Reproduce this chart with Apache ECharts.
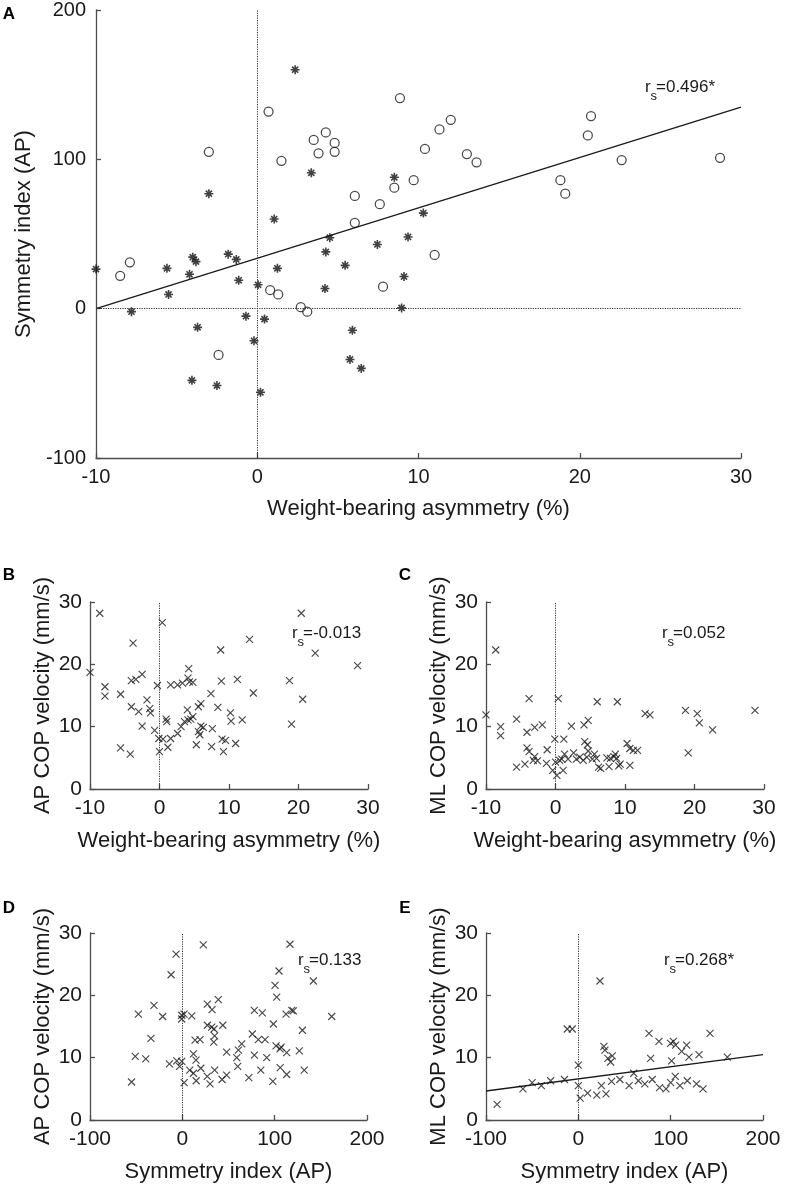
<!DOCTYPE html>
<html><head><meta charset="utf-8">
<script src="https://cdn.jsdelivr.net/npm/echarts@6/dist/echarts.min.js"></script>
<style>html,body{margin:0;padding:0;background:#fff}#c{width:785px;height:1187px}</style>
</head><body><div id="c"></div>
<script>
// Panel A: weight-bearing asymmetry (%) vs symmetry index (AP)
const aCircles = [[-8.5,22],[-7.9,31],[-3.0,105],[-2.4,-31],[0.7,132],[0.8,12.5],[1.3,9.5],[1.5,99],[2.7,1],[3.1,-2],[3.5,113],[3.8,104],[4.25,118],[4.8,111],[4.8,105],[6.05,75.5],[6.05,57.5],[7.6,70],[7.8,14.7],[8.5,81],[8.85,141],[9.7,86],[10.4,107],[11.0,36],[11.3,120],[12.0,126.5],[13.0,103.5],[13.6,98],[18.8,86],[19.1,77],[20.5,116],[20.7,129],[22.6,99.5],[28.7,101]];
const aStars = [[-10,26.5],[-7.8,-2],[-5.6,27],[-5.5,9.5],[-4.2,23],[-4.0,34.5],[-3.8,31.5],[-3.7,-12.5],[-4.05,-48],[-3.0,77],[-2.5,-51.5],[-1.8,36.5],[-1.3,33],[-1.15,19],[-0.7,-5],[-0.2,-21.5],[0.05,16],[0.2,-56],[0.45,-7],[1.05,60],[1.25,27],[2.35,160],[3.35,91],[4.2,13.5],[4.25,38],[4.5,47.5],[5.45,29],[5.75,-34],[5.9,-14.5],[6.45,-40],[7.45,43],[8.5,88],[8.95,0.5],[9.1,21.5],[9.35,48],[10.3,64]];
const aFit = [[-10,0],[30,135]];
// Panel B: WBA vs AP COP velocity
const bPoints = [[-10,18.7],[-8.6,28.2],[-7.85,16.4],[-7.85,14.9],[-5.6,15.2],[-5.6,6.6],[-4.2,5.6],[-3.8,23.4],[-4.05,17.4],[-3.4,17.6],[-2.5,18.4],[-4.05,13.2],[-3.0,12.4],[-1.8,14.3],[-1.4,12.9],[-1.3,12.2],[-2.5,10.1],[-0.7,9.4],[-0.3,16.6],[0.4,26.7],[-0.1,8.1],[0.5,8.0],[0.0,6.0],[1.05,10.8],[0.95,11.2],[1.2,6.7],[1.6,8.1],[1.6,16.7],[2.6,16.7],[3.3,17.0],[4.3,17.2],[4.2,19.3],[4.1,17.8],[4.8,17.1],[2.6,8.9],[3.1,10.0],[3.6,10.8],[4.1,11.1],[4.0,12.7],[4.5,11.2],[4.8,11.6],[5.6,13.2],[5.95,13.7],[7.4,15.3],[5.95,10.1],[6.3,9.9],[5.8,8.7],[5.6,9.2],[5.3,7.1],[7.6,9.7],[7.5,6.8],[8.4,13.1],[8.8,22.3],[8.9,17.3],[9.0,8.0],[9.5,7.8],[9.2,6.0],[10.2,12.2],[10.3,10.9],[10.95,7.3],[11.2,17.6],[11.9,11.1],[12.95,24.0],[13.5,15.4],[18.7,17.4],[19.0,10.4],[20.6,14.4],[20.4,28.2],[22.4,21.8],[28.5,19.8]];
// Panel C: WBA vs ML COP velocity
const cPoints = [[-10,11.9],[-8.6,22.3],[-7.9,10.0],[-7.9,8.55],[-5.6,11.2],[-5.6,3.5],[-4.4,4.0],[-3.8,14.5],[-4.1,9.1],[-3.0,9.9],[-1.9,10.3],[-4.1,6.6],[-3.8,6.0],[-3.0,5.2],[-3.2,4.6],[-2.6,4.5],[-1.2,6.3],[-1.3,4.1],[-0.1,8.0],[0.4,14.5],[1.2,8.0],[0.0,4.3],[0.6,4.6],[-0.4,3.0],[0.2,2.2],[1.1,3.0],[1.3,5.6],[1.8,4.8],[0.9,4.8],[2.3,10.1],[2.6,5.8],[3.0,4.8],[3.5,5.1],[4.0,4.6],[4.5,5.1],[4.7,6.1],[4.1,10.3],[4.7,11.0],[4.2,7.6],[4.6,7.1],[6.0,14.0],[5.6,5.6],[5.9,4.9],[5.3,4.8],[6.2,3.5],[6.5,3.3],[7.7,3.6],[9.1,3.7],[9.3,4.0],[10.7,3.8],[7.4,5.0],[8.4,5.2],[8.6,5.6],[8.8,4.9],[7.9,4.9],[8.9,14.0],[10.3,7.3],[10.7,6.5],[11.2,6.2],[11.8,6.2],[12.9,12.1],[13.6,11.9],[18.7,12.6],[19.1,5.8],[20.4,12.1],[20.7,10.6],[22.6,9.5],[28.7,12.6]];
// Panel D: symmetry index (AP) vs AP COP velocity
const dPoints = [[-6.8,26.6],[-12.2,23.3],[22.7,28.1],[116.6,28.2],[104.7,23.9],[100.4,21.6],[102.2,19.7],[141.9,22.3],[-47.6,17.0],[-30.7,18.4],[-21.3,16.6],[-34,13.1],[-0.7,16.8],[-0.7,16.2],[1.8,17.0],[10.2,16.7],[27.1,18.6],[39,19.3],[32.2,17.7],[27.1,15.2],[31.8,14.9],[34.3,14.6],[43.8,15.2],[13.8,12.8],[19.2,12.9],[34,12.5],[35,13.5],[78,17.6],[86.6,17.2],[75.8,13.8],[82.3,12.9],[89.6,12.9],[98.6,15.4],[112.3,17.0],[118.5,17.6],[120.2,17.5],[130,14.4],[161.8,16.6],[107,11.7],[-51,10.2],[-39.6,9.8],[-14,9.0],[-6,9.5],[-0.6,9.4],[12,10.6],[14.8,9.6],[48,10.9],[60.7,11.2],[64.3,12.2],[58.9,10.0],[78,10.4],[91.4,10.0],[101.5,11.9],[105.8,11.4],[113,10.8],[126.7,11.1],[-55,6.1],[-3,8.6],[2,6.0],[8,8.0],[12,7.5],[15,6.3],[20,8.3],[27,7.0],[30,5.8],[35,8.0],[43,6.5],[48,7.2],[60,8.6],[72,6.8],[85,8.0],[98,6.2],[106,8.4],[113,7.3],[132,8.0]];
// Panel E: symmetry index (AP) vs ML COP velocity
const ePoints = [[23.4,22.3],[-12,14.6],[-6.6,14.6],[76.5,13.9],[87.3,12.6],[100,12.3],[102.9,12.6],[105.4,12.0],[117.3,12.0],[142.6,13.9],[27.7,11.8],[28.8,11.2],[32,9.9],[36.8,10.3],[35,9.3],[111.9,11.0],[119.8,10.1],[130.7,10.5],[78.3,9.9],[101,9.5],[161.4,10.1],[0,8.8],[-88,2.5],[-60,5.0],[-50,6.0],[-40,5.5],[-30,6.3],[-15,6.5],[0,5.5],[2,3.5],[10,4.3],[20,4.0],[25,5.5],[30,4.2],[36,6.2],[45,6.5],[55,5.5],[60,7.5],[65,6.3],[72,5.8],[80,6.5],[88,5.2],[95,5.0],[100,6.0],[105,7.0],[110,5.5],[118,6.3],[128,5.8],[135,5.0]];
const eFit = [[-100,4.65],[200,10.5]];
const wbaRange = [-10, 30, 10];
const siRange = [-100, 200, 100];
const copRange = [0, 30, 10];
const labels = {
  a: { letter: 'A', rs: '=0.496*' },
  b: { letter: 'B', rs: '=-0.013' },
  c: { letter: 'C', rs: '=0.052' },
  d: { letter: 'D', rs: '=0.133' },
  e: { letter: 'E', rs: '=0.268*' }
};

const FONT = '"Liberation Sans", Arial, Helvetica, sans-serif';
const INK = '#1a1a1a';
const AXC = '#4d4d4d';
const CROSS = 'path://M0,0L10,10M0,10L10,0';
const STAR = 'path://M5,0L5,10M0,5L10,5M1.6,1.6L8.4,8.4M1.6,8.4L8.4,1.6';

function mkAxis(dim, gi, range, name, tickFont, nameGap, labelMargin) {
  return {
    type: 'value', gridIndex: gi, min: range[0], max: range[1], interval: range[2],
    name: name, nameLocation: 'middle', nameGap: nameGap,
    nameTextStyle: { fontFamily: FONT, fontSize: 22, color: INK },
    axisLine: { show: true, onZero: false, lineStyle: { color: AXC, width: 1.3 } },
    axisTick: { show: true, inside: true, length: 5, lineStyle: { color: AXC, width: 1.3 } },
    axisLabel: { fontFamily: FONT, fontSize: tickFont, color: INK, margin: labelMargin },
    splitLine: { show: false }
  };
}

const grids = [
  { left: 96, top: 10, width: 645, height: 448 },
  { left: 90, top: 602, width: 278, height: 187 },
  { left: 486, top: 602, width: 278, height: 187 },
  { left: 90, top: 933, width: 277, height: 187 },
  { left: 486, top: 933, width: 277, height: 187 }
].map(g => Object.assign({ outerBoundsMode: 'none', containLabel: false }, g));

const xAxes = [
  mkAxis('x', 0, wbaRange, 'Weight-bearing asymmetry (%)', 20, 40, 9),
  mkAxis('x', 1, wbaRange, 'Weight-bearing asymmetry (%)', 21, 41, 9),
  mkAxis('x', 2, wbaRange, 'Weight-bearing asymmetry (%)', 21, 41, 9),
  mkAxis('x', 3, siRange, 'Symmetry index (AP)', 21, 41, 9),
  mkAxis('x', 4, siRange, 'Symmetry index (AP)', 21, 41, 9)
];
const yAxes = [
  mkAxis('y', 0, [-100, 200, 100], 'Symmetry index (AP)', 20, 37, 10),
  mkAxis('y', 1, copRange, 'AP COP velocity (mm/s)', 21, 36, 8),
  mkAxis('y', 2, copRange, 'ML COP velocity (mm/s)', 21, 36, 8),
  mkAxis('y', 3, copRange, 'AP COP velocity (mm/s)', 21, 36, 8),
  mkAxis('y', 4, copRange, 'ML COP velocity (mm/s)', 21, 36, 8)
];

function dotted(gi, withH) {
  const d = [{ xAxis: 0 }];
  if (withH) d.push({ yAxis: 0 });
  return {
    type: 'scatter', xAxisIndex: gi, yAxisIndex: gi, data: [], silent: true,
    markLine: { silent: true, symbol: ['none', 'none'], label: { show: false },
      lineStyle: { type: [1.2, 1.2], color: '#333', width: 1 }, data: d, animation: false }
  };
}
function crosses(gi, data) {
  return { type: 'scatter', xAxisIndex: gi, yAxisIndex: gi, data: data, symbol: CROSS, symbolSize: 7,
    itemStyle: { color: 'transparent', borderColor: INK, borderWidth: 1.15 }, silent: true, z: 3 };
}
function fit(gi, data) {
  return { type: 'line', xAxisIndex: gi, yAxisIndex: gi, data: data, showSymbol: false, symbol: 'none',
    lineStyle: { color: INK, width: 1.3 }, silent: true, z: 2 };
}

const series = [
  dotted(0, true),
  fit(0, aFit),
  { type: 'scatter', xAxisIndex: 0, yAxisIndex: 0, data: aCircles, symbol: 'circle', symbolSize: 9,
    itemStyle: { color: 'transparent', borderColor: INK, borderWidth: 1.25 }, silent: true, z: 3 },
  { type: 'scatter', xAxisIndex: 0, yAxisIndex: 0, data: aStars, symbol: STAR, symbolSize: 9,
    itemStyle: { color: 'transparent', borderColor: '#111', borderWidth: 1.6 }, silent: true, z: 3 },
  dotted(1, false), crosses(1, bPoints),
  dotted(2, false), crosses(2, cPoints),
  dotted(3, false), crosses(3, dPoints),
  dotted(4, false), crosses(4, ePoints), fit(4, eFit)
];

function rsText(x, y, rest, fs) {
  return { type: 'group', silent: true, children: [
    { type: 'text', x: x, y: y, style: { text: 'r', fontFamily: FONT, fontSize: fs, fill: INK, align: 'left', verticalAlign: 'middle' } },
    { type: 'text', x: x + 5.5, y: y + 9, style: { text: 's', fontFamily: FONT, fontSize: 13, fill: INK, align: 'left', verticalAlign: 'middle' } },
    { type: 'text', x: x + 11, y: y, style: { text: rest, fontFamily: FONT, fontSize: fs, fill: INK, align: 'left', verticalAlign: 'middle' } }
  ] };
}
function letter(x, y, t) {
  return { type: 'text', x: x, y: y, silent: true, style: { text: t, fontFamily: FONT, fontSize: 17, fontWeight: 'bold', fill: '#000', align: 'center', verticalAlign: 'middle' } };
}

const graphic = [
  letter(9, 14, labels.a.letter), letter(9, 575, labels.b.letter), letter(405, 575, labels.c.letter),
  letter(9, 908, labels.d.letter), letter(405, 908, labels.e.letter),
  rsText(645, 87, labels.a.rs, 17),
  rsText(292, 633, labels.b.rs, 17),
  rsText(662, 633, labels.c.rs, 17),
  rsText(298, 960, labels.d.rs, 17),
  rsText(664, 960, labels.e.rs, 17)
];

const chart = echarts.init(document.getElementById('c'), null, { renderer: 'canvas' });
chart.setOption({
  animation: false,
  backgroundColor: '#fff',
  grid: grids, xAxis: xAxes, yAxis: yAxes, series: series, graphic: graphic
});
</script></body></html>
